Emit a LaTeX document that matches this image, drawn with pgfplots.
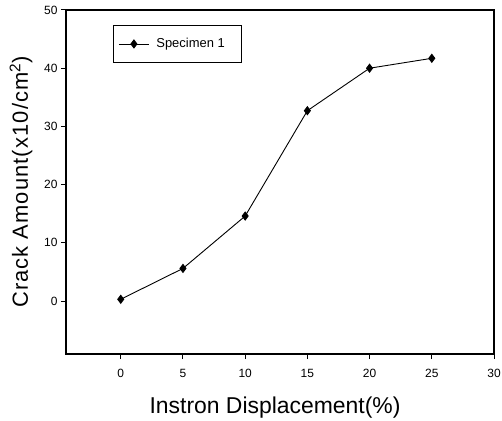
\documentclass[border=0pt]{standalone}
\usepackage{fontspec}
\setmainfont{Liberation Sans}
\usepackage{pgfplots}
\pgfplotsset{compat=1.18}

\begin{document}
\begin{tikzpicture}[x=1bp,y=1bp]
\begin{axis}[
  scale only axis,
  width=428bp, height=344bp,
  xmin=-4.4, xmax=30,
  ymin=-9.1, ymax=50,
  xtick={0,5,10,15,20,25,30},
  ytick={0,10,20,30,40,50},
  axis line style={line width=1.2bp},
  tick align=outside,
  tick pos=left,
  major tick length=5bp,
  tick style={line width=1bp, black},
  /pgf/number format/assume math mode=true,
  tick label style={font=\fontsize{12}{14}\selectfont},
  xticklabel style={yshift=-7bp},
  xlabel={Instron Displacement(\%)},
  ylabel={Crack Amount(x10/cm\textsuperscript{2})},
  xlabel style={font=\fontsize{23}{25}\selectfont, yshift=-12bp, xshift=-5bp},
  ylabel style={font=\fontsize{22}{24}\selectfont\addfontfeature{LetterSpace=5},
    yshift=5bp},
  legend style={at={(0.11,0.956)}, anchor=north west, draw=black,
    line width=0.8bp, font=\fontsize{13}{15}\selectfont,
    inner xsep=5bp, inner ysep=11bp},
  legend image code/.code={
    \draw[mark repeat=2, mark phase=2, #1]
      plot coordinates {(0bp,0bp) (15bp,0bp) (30bp,0bp)};
  },
  legend cell align=left,
]
\addplot[black, line width=0.9bp, mark=diamond*, mark size=4bp,
  mark options={solid, fill=black}] coordinates {
  (0,0.3) (5,5.6) (10,14.6) (15,32.7) (20,40.0) (25,41.7)
};
\addlegendentry{\kern5bp Specimen 1\kern10bp\relax}
\end{axis}
\pgfresetboundingbox
\useasboundingbox ([xshift=-66bp,yshift=-67bp]current axis.south west)
  rectangle ([xshift=8bp,yshift=10bp]current axis.north east);
\end{tikzpicture}
\end{document}
